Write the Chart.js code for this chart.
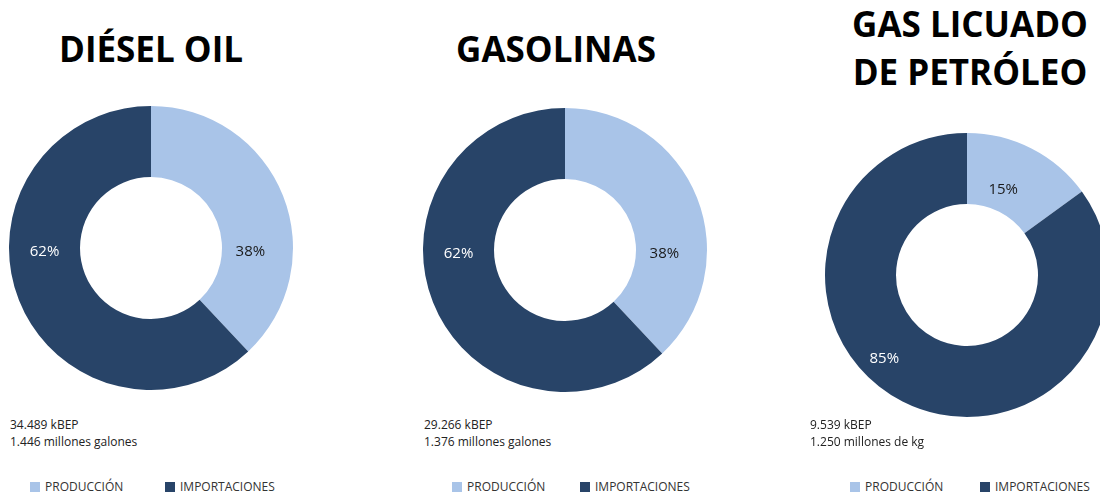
<!DOCTYPE html>
<html>
<head>
<meta charset="utf-8">
<script src="https://cdn.jsdelivr.net/npm/chart.js@4.4.1/dist/chart.umd.min.js"></script>
<style>
  body { margin: 0; width: 1100px; height: 494px; overflow: hidden; background: #fff; font-family: "Open Sans", sans-serif; position: relative; }
  .title { position: absolute; width: 360px; margin-left: -180px; font-weight: bold; font-size: 35px; line-height: 48px; text-align: center; color: #000; white-space: nowrap; }
  .ring { position: absolute; width: 290px; height: 290px; }
  .note { position: absolute; font-size: 12px; line-height: 17px; color: #222; white-space: nowrap; }
  .legend { position: absolute; font-size: 12px; line-height: 14px; color: #333; white-space: nowrap; }
  .legend .item { display: inline-block; }
  .legend .box { display: inline-block; width: 10px; height: 10px; margin-right: 5px; vertical-align: -1px; }
</style>
</head>
<body>
<script>
// datos
const categories = ['PRODUCCIÓN', 'IMPORTACIONES'];
const titles = [['DIÉSEL OIL'], ['GASOLINAS'], ['GAS LICUADO', 'DE PETRÓLEO']];
const shares = [[38, 62], [38, 62], [15, 85]];
const energyNotes = ['34.489 kBEP', '29.266 kBEP', '9.539 kBEP'];
const volumeNotes = ['1.446 millones galones', '1.376 millones galones', '1.250 millones de kg'];

const colors = ['#A9C4E8', '#284468'];
const labelColors = ['#1a1a1a', '#ffffff'];

// layout de cada panel (posiciones, no datos)
const panels = [
  { cx: 151, cy: 248, titleX: 151, titleTop: 25, noteX: 10, legendX: 30, itemW: 135, angles: [90, 270], radii: [0.70, 0.75] },
  { cx: 565, cy: 250, titleX: 556, titleTop: 25, noteX: 424, legendX: 452, itemW: 128, angles: [90, 270], radii: [0.70, 0.75] },
  { cx: 967, cy: 275, titleX: 970, titleTop: 0, noteX: 810, legendX: 850, itemW: 130, angles: [22, 226], radii: [0.68, 0.81] }
];

const ringLabels = {
  id: 'ringLabels',
  afterDatasetsDraw(chart, args, opts) {
    const ctx = chart.ctx;
    const meta = chart.getDatasetMeta(0);
    ctx.save();
    ctx.font = '15px "Open Sans"';
    ctx.textAlign = 'center';
    ctx.textBaseline = 'middle';
    meta.data.forEach((arc, i) => {
      const p = arc.getProps(['x', 'y', 'outerRadius'], true);
      const a = (opts.angles[i] - 90) * Math.PI / 180;
      const r = p.outerRadius * opts.radii[i];
      ctx.fillStyle = labelColors[i];
      ctx.fillText(chart.data.datasets[0].data[i] + '%', p.x + Math.cos(a) * r, p.y + 4 + Math.sin(a) * r);
    });
    ctx.restore();
  }
};

panels.forEach((pn, k) => {
  // título
  const t = document.createElement('div');
  t.className = 'title';
  t.style.left = pn.titleX + 'px';
  t.style.top = pn.titleTop + 'px';
  t.innerHTML = titles[k].join('<br>');
  document.body.appendChild(t);

  // dona
  const wrap = document.createElement('div');
  wrap.className = 'ring';
  wrap.style.left = (pn.cx - 145) + 'px';
  wrap.style.top = (pn.cy - 145) + 'px';
  const cv = document.createElement('canvas');
  wrap.appendChild(cv);
  document.body.appendChild(wrap);

  new Chart(cv, {
    type: 'doughnut',
    data: {
      labels: categories,
      datasets: [{
        data: shares[k],
        backgroundColor: colors,
        borderWidth: 0
      }]
    },
    options: {
      responsive: true,
      maintainAspectRatio: false,
      animation: false,
      cutout: '50%',
      layout: { padding: 3 },
      plugins: {
        legend: { display: false },
        tooltip: { enabled: false },
        ringLabels: { angles: pn.angles, radii: pn.radii }
      }
    },
    plugins: [ringLabels]
  });

  // notas
  const n = document.createElement('div');
  n.className = 'note';
  n.style.left = pn.noteX + 'px';
  n.style.top = '416px';
  n.innerHTML = energyNotes[k] + '<br>' + volumeNotes[k];
  document.body.appendChild(n);

  // leyenda
  const lg = document.createElement('div');
  lg.className = 'legend';
  lg.style.left = pn.legendX + 'px';
  lg.style.top = '480px';
  categories.forEach((c, i) => {
    const it = document.createElement('span');
    it.className = 'item';
    if (i === 0) it.style.width = pn.itemW + 'px';
    const b = document.createElement('span');
    b.className = 'box';
    b.style.background = colors[i];
    it.appendChild(b);
    it.appendChild(document.createTextNode(c));
    lg.appendChild(it);
  });
  document.body.appendChild(lg);
});
</script>
</body>
</html>
